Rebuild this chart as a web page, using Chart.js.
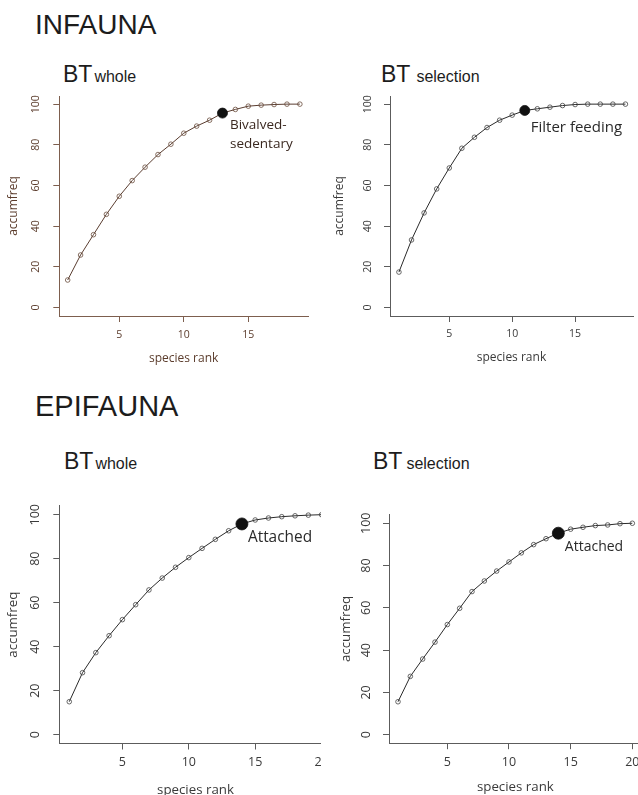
<!DOCTYPE html>
<html lang="en">
<head>
<meta charset="UTF-8">
<title>Species rank accumulation</title>
<script src="https://cdn.jsdelivr.net/npm/chart.js@4"></script>
<style>
  body { margin:0; width:638px; height:795px; overflow:hidden; background:#fff; position:relative;
         font-family:"Liberation Sans", Arial, sans-serif; }
  .head { position:absolute; color:#1c1c1c; line-height:1; white-space:nowrap; }
  .big { font-size:28px; }
  .sub { font-size:23px; }
  .sub span { font-size:16px; }
  .panel { position:absolute; overflow:hidden; }
  .panel canvas { position:absolute; left:0; top:0; }
</style>
</head>
<body>
<div class="head big" style="left:35px; top:11px;">INFAUNA</div>
<div class="head sub" style="left:63px; top:63px;">BT<span style="margin-left:2px">whole</span></div>
<div class="head sub" style="left:381px; top:63px;">BT<span style="margin-left:6px">selection</span></div>
<div class="head big" style="left:35px; top:392px; font-size:29px;">EPIFAUNA</div>
<div class="head sub" style="left:64px; top:450px;">BT<span style="margin-left:2px">whole</span></div>
<div class="head sub" style="left:373px; top:450px;">BT<span style="margin-left:4px">selection</span></div>

<div class="panel" style="left:0px; top:66px; width:320px; height:314px;"><canvas id="c1" width="320" height="314"></canvas></div>
<div class="panel" style="left:320px; top:66px; width:318px; height:314px;"><canvas id="c2" width="318" height="314"></canvas></div>
<div class="panel" style="left:0px; top:480px; width:321px; height:315px;"><canvas id="c3" width="340" height="330"></canvas></div>
<div class="panel" style="left:322px; top:480px; width:316px; height:315px;"><canvas id="c4" width="330" height="330"></canvas></div>

<script>
// species ranks
const ranks19 = [1, 2, 3, 4, 5, 6, 7, 8, 9, 10, 11, 12, 13, 14, 15, 16, 17, 18, 19];
const ranks20 = [1, 2, 3, 4, 5, 6, 7, 8, 9, 10, 11, 12, 13, 14, 15, 16, 17, 18, 19, 20];

// accumulated frequency (%)
const infaunaWhole = [13.5, 25.8, 35.8, 45.8, 54.7, 62.4, 69.0, 75.2, 80.3, 85.7, 89.2, 92.1, 95.6, 97.4, 99.0, 99.5, 99.8, 100, 100];
const infaunaSelection = [17.4, 33.2, 46.5, 58.3, 68.6, 78.3, 83.7, 88.5, 92.1, 94.6, 96.9, 97.7, 98.5, 99.3, 99.8, 100, 100, 100, 100];
const epifaunaWhole = [15.0, 28.2, 37.3, 45.0, 52.3, 59.1, 65.8, 71.2, 76.1, 80.5, 84.7, 88.8, 92.7, 95.8, 97.6, 98.5, 99.1, 99.5, 99.8, 100];
const epifaunaSelection = [15.6, 27.6, 35.8, 43.8, 52.1, 59.8, 67.7, 72.7, 77.4, 81.7, 86.0, 89.9, 92.7, 95.3, 97.2, 98.1, 98.9, 99.2, 99.8, 100];

// highlighted trait rank and its label
const infaunaWholeMark = 13, infaunaWholeNote = ['Bivalved-', 'sedentary'];
const infaunaSelMark = 11, infaunaSelNote = ['Filter feeding'];
const epifaunaWholeMark = 14, epifaunaWholeNote = ['Attached'];
const epifaunaSelMark = 14, epifaunaSelNote = ['Attached'];

const yTicks = [0, 20, 40, 60, 80, 100];
const xTicksTop = [5, 10, 15];
const xTicksBottom = [5, 10, 15, 20];

const notePlugin = {
  id: 'note',
  afterDatasetsDraw(chart, args, opts) {
    const pt = chart.getDatasetMeta(0).data[opts.index];
    const ctx = chart.ctx;
    ctx.save();
    ctx.font = opts.size + 'px "Open Sans"';
    ctx.fillStyle = opts.color;
    ctx.textAlign = 'left';
    ctx.textBaseline = 'middle';
    opts.lines.forEach((t, i) => ctx.fillText(t, pt.x + opts.dx, pt.y + opts.dy + i * opts.gap));
    ctx.restore();
  }
};

const measure = document.createElement('canvas').getContext('2d');

function makePanel(cfg) {
  const tickLen = 6;
  const box = cfg.box, area = cfg.area;
  measure.font = cfg.tickSize + 'px "Open Sans"';
  const widest = measure.measureText('100').width;
  const titleLH = cfg.titleSize * 1.2;

  const yAxisW = area.l - box.left;
  const xAxisH = box.top + box.ch - area.b;
  const yTickPad = (area.l - tickLen) - widest / 2 - cfg.yLabelX;
  const yTitlePad = (cfg.yTitleX - box.left) - titleLH / 2;
  const xTickPad = cfg.xLabelY - area.b - tickLen - cfg.tickSize * 1.2 / 2;
  const xTitlePad = (box.top + box.ch) - cfg.xTitleY - titleLH / 2;

  const hi = cfg.ranks.indexOf(cfg.mark);
  const gridOpts = { drawOnChartArea: false, drawTicks: true, tickLength: tickLen, color: cfg.axisColor, lineWidth: 1 };
  const borderOpts = { display: true, color: cfg.axisColor, width: 1 };

  new Chart(document.getElementById(cfg.id), {
    type: 'line',
    data: {
      datasets: [{
        data: cfg.ranks.map((r, i) => ({ x: r, y: cfg.freq[i] })),
        borderColor: cfg.lineColor,
        borderWidth: 1,
        tension: 0,
        pointRadius: cfg.ranks.map((r, i) => i === hi ? cfg.bigR : cfg.smallR),
        pointBackgroundColor: cfg.ranks.map((r, i) => i === hi ? '#111' : 'rgba(0,0,0,0)'),
        pointBorderColor: cfg.ranks.map((r, i) => i === hi ? '#111' : cfg.pointColor),
        pointBorderWidth: 0.8
      }]
    },
    options: {
      responsive: false,
      animation: false,
      devicePixelRatio: 1,
      layout: { padding: { left: 0, top: area.t - box.top, right: box.left + box.cw - area.r, bottom: 0 } },
      plugins: {
        legend: { display: false },
        tooltip: { enabled: false },
        note: { index: hi, lines: cfg.note, dx: cfg.noteDx, dy: cfg.noteDy, gap: cfg.noteGap, size: cfg.noteSize, color: cfg.noteColor }
      },
      scales: {
        x: {
          type: 'linear', min: cfg.xRange[0], max: cfg.xRange[1],
          afterBuildTicks: s => { s.ticks = cfg.xTicks.map(v => ({ value: v })); },
          afterFit: s => { s.height = xAxisH; },
          grid: gridOpts, border: borderOpts,
          ticks: { autoSkip: false, maxRotation: 0, padding: xTickPad, color: cfg.textColor,
                   font: { family: 'Open Sans', size: cfg.tickSize } },
          title: { display: true, text: 'species rank', color: cfg.textColor,
                   font: { family: 'Open Sans', size: cfg.titleSize }, padding: { top: 0, bottom: xTitlePad } }
        },
        y: {
          type: 'linear', min: cfg.yRange[0], max: cfg.yRange[1],
          afterBuildTicks: s => { s.ticks = yTicks.map(v => ({ value: v })); },
          afterFit: s => { s.width = yAxisW; },
          grid: gridOpts, border: borderOpts,
          ticks: { minRotation: 90, maxRotation: 90, crossAlign: 'center', padding: yTickPad, color: cfg.textColor,
                   font: { family: 'Open Sans', size: cfg.tickSize } },
          title: { display: true, text: 'accumfreq', color: cfg.textColor,
                   font: { family: 'Open Sans', size: cfg.titleSize }, padding: { top: yTitlePad, bottom: 0 } }
        }
      }
    },
    plugins: [notePlugin]
  });
}

const brown = { axisColor: '#7d5e4e', textColor: '#5b3c2c', lineColor: '#5a3d30', pointColor: '#6a4c3c', noteColor: '#3a2820' };
const grey = { axisColor: '#5c5c5c', textColor: '#3a3a3a', lineColor: '#2a2a2a', pointColor: '#444', noteColor: '#2a2a2a' };

makePanel(Object.assign({}, brown, {
  id: 'c1', ranks: ranks19, freq: infaunaWhole, mark: infaunaWholeMark, note: infaunaWholeNote,
  box: { left: 0, top: 66, cw: 320, ch: 314 }, area: { l: 59.3, t: 96, r: 308, b: 316 },
  xRange: [0.35, 19.63], yRange: [-4.2, 104], xTicks: xTicksTop,
  yLabelX: 36, yTitleX: 13.3, xLabelY: 335, xTitleY: 358.3, tickSize: 10.5, titleSize: 12,
  smallR: 2.3, bigR: 5, noteDx: 7.5, noteDy: 12, noteGap: 19, noteSize: 13.5
}));

makePanel(Object.assign({}, grey, {
  id: 'c2', ranks: ranks19, freq: infaunaSelection, mark: infaunaSelMark, note: infaunaSelNote,
  box: { left: 320, top: 66, cw: 318, ch: 314 }, area: { l: 390, t: 96, r: 633, b: 316 },
  xRange: [0.29, 19.6], yRange: [-4.2, 104], xTicks: xTicksTop,
  yLabelX: 368.3, yTitleX: 340, xLabelY: 334.5, xTitleY: 357.7, tickSize: 10.5, titleSize: 12,
  smallR: 2.3, bigR: 5, noteDx: 6, noteDy: 17, noteGap: 18, noteSize: 15
}));

makePanel(Object.assign({}, grey, {
  id: 'c3', ranks: ranks20, freq: epifaunaWhole, mark: epifaunaWholeMark, note: epifaunaWholeNote,
  box: { left: 0, top: 480, cw: 340, ch: 330 }, area: { l: 59.3, t: 505.9, r: 331.7, b: 743.5 },
  xRange: [0.25, 20.76], yRange: [-4, 104], xTicks: xTicksBottom,
  yLabelX: 35, yTitleX: 13, xLabelY: 762.7, xTitleY: 790, tickSize: 12.5, titleSize: 13.3,
  smallR: 2.3, bigR: 6, noteDx: 6, noteDy: 14, noteGap: 18, noteSize: 15.4
}));

makePanel(Object.assign({}, grey, {
  id: 'c4', ranks: ranks20, freq: epifaunaSelection, mark: epifaunaSelMark, note: epifaunaSelNote,
  box: { left: 322, top: 480, cw: 330, ch: 330 }, area: { l: 389, t: 514.8, r: 641.7, b: 743.2 },
  xRange: [0.27, 20.76], yRange: [-4, 104], xTicks: xTicksBottom,
  yLabelX: 366, yTitleX: 346, xLabelY: 762.7, xTitleY: 787.3, tickSize: 12.5, titleSize: 13.3,
  smallR: 2.3, bigR: 6, noteDx: 6.5, noteDy: 14, noteGap: 18, noteSize: 14
}));
</script>
</body>
</html>
